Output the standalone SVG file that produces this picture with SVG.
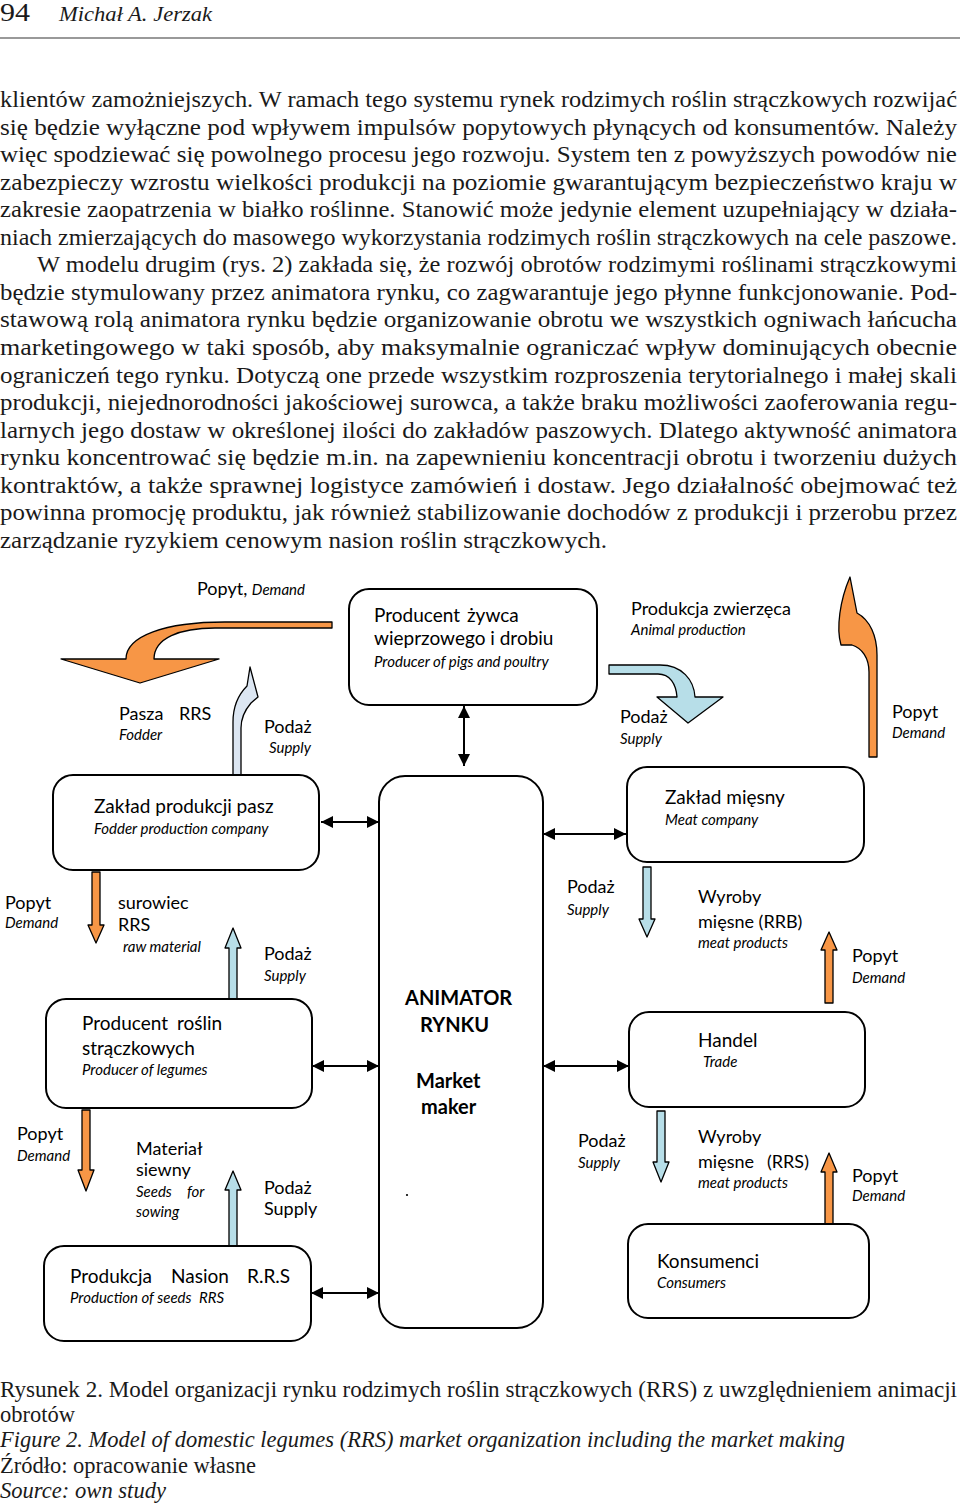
<svg xmlns="http://www.w3.org/2000/svg" width="960" height="1507" viewBox="0 0 960 1507">
<style>
.serif{font-family:"Liberation Serif","Times New Roman",serif;fill:#1a1a1a}
.body{font-size:23px}
.cap{font-size:23px}
.m{font-family:Lato,"Noto Sans",sans-serif;font-size:19px;fill:#000}
.l{font-family:Lato,"Noto Sans",sans-serif;font-size:18px;fill:#000}
.i{font-family:Lato,"Noto Sans",sans-serif;font-size:15px;font-style:italic;fill:#000}
.b{font-family:Lato,"Noto Sans",sans-serif;font-size:20px;font-weight:bold;fill:#000}
.box{fill:#fff;stroke:#000;stroke-width:2}
.or{fill:#F79646;stroke:#000;stroke-width:1.3;stroke-linejoin:round}
.bl{fill:#B7DEE8;stroke:#000;stroke-width:1.3;stroke-linejoin:round}
.pb{fill:#DCE6F2;stroke:#000;stroke-width:1.3;stroke-linejoin:round}
.dbl{stroke:#000;stroke-width:2;fill:none;marker-start:url(#ah);marker-end:url(#ah)}
</style>
<defs>
<marker id="ah" viewBox="0 0 12 12" refX="12" refY="6" markerWidth="12" markerHeight="12" markerUnits="userSpaceOnUse" orient="auto-start-reverse">
<path d="M0,0 L12,6 L0,12 Z" fill="#000"/>
</marker>
</defs>
<rect width="960" height="1507" fill="#fff"/>

<g id="header">
<text class="serif" x="0" y="21" font-size="26" textLength="30" lengthAdjust="spacingAndGlyphs">94</text>
<text class="serif" x="59" y="21" font-size="22" font-style="italic" textLength="153" lengthAdjust="spacingAndGlyphs">Michał A. Jerzak</text>
<line x1="0" y1="38" x2="960" y2="38" stroke="#999" stroke-width="2"/>
</g>

<g id="body-text" class="serif body">
<text x="0" y="107" textLength="957" lengthAdjust="spacingAndGlyphs">klientów zamożniejszych. W ramach tego systemu rynek rodzimych roślin strączkowych rozwijać</text>
<text x="0" y="134.5" textLength="957" lengthAdjust="spacingAndGlyphs">się będzie wyłączne pod wpływem impulsów popytowych płynących od konsumentów. Należy</text>
<text x="0" y="162" textLength="957" lengthAdjust="spacingAndGlyphs">więc spodziewać się powolnego procesu jego rozwoju. System ten z powyższych powodów nie</text>
<text x="0" y="189.5" textLength="957" lengthAdjust="spacingAndGlyphs">zabezpieczy wzrostu wielkości produkcji na poziomie gwarantującym bezpieczeństwo kraju w</text>
<text x="0" y="217" textLength="957" lengthAdjust="spacingAndGlyphs">zakresie zaopatrzenia w białko roślinne. Stanowić może jedynie element uzupełniający w działa-</text>
<text x="0" y="245" textLength="957" lengthAdjust="spacingAndGlyphs">niach zmierzających do masowego wykorzystania rodzimych roślin strączkowych na cele paszowe.</text>
<text x="37" y="272" textLength="920" lengthAdjust="spacingAndGlyphs">W modelu drugim (rys. 2) zakłada się, że rozwój obrotów rodzimymi roślinami strączkowymi</text>
<text x="0" y="300" textLength="957" lengthAdjust="spacingAndGlyphs">będzie stymulowany przez animatora rynku, co zagwarantuje jego płynne funkcjonowanie. Pod-</text>
<text x="0" y="327" textLength="957" lengthAdjust="spacingAndGlyphs">stawową rolą animatora rynku będzie organizowanie obrotu we wszystkich ogniwach łańcucha</text>
<text x="0" y="355" textLength="957" lengthAdjust="spacingAndGlyphs">marketingowego w taki sposób, aby maksymalnie ograniczać wpływ dominujących obecnie</text>
<text x="0" y="383" textLength="957" lengthAdjust="spacingAndGlyphs">ograniczeń tego rynku. Dotyczą one przede wszystkim rozproszenia terytorialnego i małej skali</text>
<text x="0" y="410" textLength="957" lengthAdjust="spacingAndGlyphs">produkcji, niejednorodności jakościowej surowca, a także braku możliwości zaoferowania regu-</text>
<text x="0" y="438" textLength="957" lengthAdjust="spacingAndGlyphs">larnych jego dostaw w określonej ilości do zakładów paszowych. Dlatego aktywność animatora</text>
<text x="0" y="465" textLength="957" lengthAdjust="spacingAndGlyphs">rynku koncentrować się będzie m.in. na zapewnieniu koncentracji obrotu i tworzeniu dużych</text>
<text x="0" y="493" textLength="957" lengthAdjust="spacingAndGlyphs">kontraktów, a także sprawnej logistyce zamówień i dostaw. Jego działalność obejmować też</text>
<text x="0" y="520" textLength="957" lengthAdjust="spacingAndGlyphs">powinna promocję produktu, jak również stabilizowanie dochodów z produkcji i przerobu przez</text>
<text x="0" y="548" textLength="607" lengthAdjust="spacingAndGlyphs">zarządzanie ryzykiem cenowym nasion roślin strączkowych.</text>
</g>

<g id="connectors">
<line class="dbl" x1="464" y1="706" x2="464" y2="766"/>
<line class="dbl" x1="321" y1="822" x2="379" y2="822"/>
<line class="dbl" x1="312" y1="1066" x2="379" y2="1066"/>
<line class="dbl" x1="311" y1="1293" x2="379" y2="1293"/>
<line class="dbl" x1="543" y1="834" x2="626" y2="834"/>
<line class="dbl" x1="543" y1="1066" x2="629" y2="1066"/>
<!-- curved flow arrows -->
<path class="or" d="M332,622 L332,628 L215,628 C180,628 154,638 154,659 L219,659 L140,683 L61,659 L126,659 C126,636 165,622 225,622 Z"/>
<path class="pb" d="M233,777 L233,722 C233,705 240,693 247,686 L250,667 L258,697 L251,703 C245,710 241,718 241,728 L241,777 Z"/>
<path class="bl" d="M609,665 L660,665 C682,665 694,680 695,697 L723,697 L688,723 L657,697 L677,697 C676,684 670,674 658,674 L609,674 Z"/>
<path class="or" d="M869,757 L869,672 C869,658 862,648 852,645 L841,645 C836,628 840,600 850,577 L857,613 C870,620 877,636 877,655 L877,757 Z"/>
<!-- straight block arrows -->
<polygon class="or" points="92,872 100,872 100,925 104,925 96,943 88,925 92,925"/>
<polygon class="bl" points="229,999 237,999 237,948 241,948 233,928 225,948 229,948"/>
<polygon class="or" points="82,1110 90,1110 90,1170 94,1170 86,1191 78,1170 82,1170"/>
<polygon class="bl" points="229,1246 237,1246 237,1190 241,1190 233,1171 225,1190 229,1190"/>
<polygon class="bl" points="643,867 651,867 651,919 655,919 647,937 639,919 643,919"/>
<polygon class="or" points="825,1003 833,1003 833,950 837,950 829,932 821,950 825,950"/>
<polygon class="bl" points="657,1111 665,1111 665,1162 669,1162 661,1182 653,1162 657,1162"/>
<polygon class="or" points="825,1224 833,1224 833,1172 837,1172 829,1153 821,1172 825,1172"/>
</g>

<g id="node-producent-zywca">
<rect class="box" x="349" y="589" width="248" height="116" rx="20"/>
<text class="m" x="374" y="622">Producent <tspan x="467">żywca</tspan></text>
<text class="m" x="374" y="645">wieprzowego i drobiu</text>
<text class="i" x="374" y="667">Producer of pigs and poultry</text>
</g>

<g id="node-animator">
<rect class="box" x="379" y="776" width="164" height="552" rx="26"/>
<text class="b" x="405" y="1005">ANIMATOR</text>
<text class="b" x="420" y="1032">RYNKU</text>
<text class="b" x="416" y="1088">Market</text>
<text class="b" x="421" y="1114">maker</text>
<circle cx="407" cy="1195" r="1.1" fill="#000"/>
</g>

<g id="node-zaklad-pasz">
<rect class="box" x="53" y="775" width="266" height="95" rx="20"/>
<text class="m" x="94" y="813">Zakład produkcji pasz</text>
<text class="i" x="94" y="834">Fodder production company</text>
</g>

<g id="node-producent-roslin">
<rect class="box" x="46" y="999" width="266" height="109" rx="20"/>
<text class="m" x="82" y="1030">Producent <tspan x="177">roślin</tspan></text>
<text class="m" x="82" y="1055">strączkowych</text>
<text class="i" x="82" y="1075">Producer of legumes</text>
</g>

<g id="node-produkcja-nasion">
<rect class="box" x="44" y="1246" width="267" height="95" rx="20"/>
<text class="m" x="70" y="1283">Produkcja<tspan x="171">Nasion</tspan><tspan x="247">R.R.S</tspan></text>
<text class="i" x="70" y="1303">Production of seeds <tspan x="199">RRS</tspan></text>
</g>

<g id="node-zaklad-miesny">
<rect class="box" x="627" y="767" width="237" height="95" rx="20"/>
<text class="m" x="665" y="804">Zakład mięsny</text>
<text class="i" x="665" y="825">Meat company</text>
</g>

<g id="node-handel">
<rect class="box" x="629" y="1012" width="236" height="95" rx="20"/>
<text class="m" x="698" y="1047">Handel</text>
<text class="i" x="703" y="1067">Trade</text>
</g>

<g id="node-konsumenci">
<rect class="box" x="628" y="1224" width="241" height="94" rx="20"/>
<text class="m" x="657" y="1268">Konsumenci</text>
<text class="i" x="657" y="1288">Consumers</text>
</g>

<g id="labels">
<text class="l" x="197" y="595" font-size="16">Popyt, <tspan class="i">Demand</tspan></text>
<text class="l" x="119" y="720">Pasza <tspan x="179">RRS</tspan></text>
<text class="i" x="119" y="740">Fodder</text>
<text class="l" x="264" y="733">Podaż</text>
<text class="i" x="269" y="753">Supply</text>
<text class="l" x="631" y="615">Produkcja zwierzęca</text>
<text class="i" x="631" y="635">Animal production</text>
<text class="l" x="620" y="723">Podaż</text>
<text class="i" x="620" y="744">Supply</text>
<text class="l" x="892" y="718">Popyt</text>
<text class="i" x="892" y="738">Demand</text>

<text class="l" x="5" y="909">Popyt</text>
<text class="i" x="5" y="928">Demand</text>
<text class="l" x="118" y="909">surowiec</text>
<text class="l" x="118" y="931">RRS</text>
<text class="i" x="123" y="952">raw material</text>
<text class="l" x="264" y="960">Podaż</text>
<text class="i" x="264" y="981">Supply</text>

<text class="l" x="17" y="1140">Popyt</text>
<text class="i" x="17" y="1161">Demand</text>
<text class="l" x="136" y="1155">Materiał</text>
<text class="l" x="136" y="1176">siewny</text>
<text class="i" x="136" y="1197">Seeds<tspan x="187">for</tspan></text>
<text class="i" x="136" y="1217">sowing</text>
<text class="l" x="264" y="1194">Podaż</text>
<text class="l" x="264" y="1215" font-size="15">Supply</text>

<text class="l" x="567" y="893">Podaż</text>
<text class="i" x="567" y="915">Supply</text>
<text class="l" x="698" y="903">Wyroby</text>
<text class="l" x="698" y="928">mięsne (RRB)</text>
<text class="i" x="698" y="948">meat products</text>
<text class="l" x="852" y="962">Popyt</text>
<text class="i" x="852" y="983">Demand</text>

<text class="l" x="578" y="1147">Podaż</text>
<text class="i" x="578" y="1168">Supply</text>
<text class="l" x="698" y="1143">Wyroby</text>
<text class="l" x="698" y="1168">mięsne <tspan x="767">(RRS)</tspan></text>
<text class="i" x="698" y="1188">meat products</text>
<text class="l" x="852" y="1182">Popyt</text>
<text class="i" x="852" y="1201">Demand</text>
</g>

<g id="caption" class="serif cap">
<text x="0" y="1397" textLength="957" lengthAdjust="spacingAndGlyphs">Rysunek 2. Model organizacji rynku rodzimych roślin strączkowych (RRS) z uwzględnieniem animacji</text>
<text x="0" y="1422" textLength="75" lengthAdjust="spacingAndGlyphs">obrotów</text>
<text x="0" y="1447" font-style="italic" textLength="845" lengthAdjust="spacingAndGlyphs">Figure 2. Model of domestic legumes (RRS) market organization including the market making</text>
<text x="0" y="1473" textLength="256" lengthAdjust="spacingAndGlyphs">Źródło: opracowanie własne</text>
<text x="0" y="1498" font-style="italic" textLength="166" lengthAdjust="spacingAndGlyphs">Source: own study</text>
</g>
</svg>
